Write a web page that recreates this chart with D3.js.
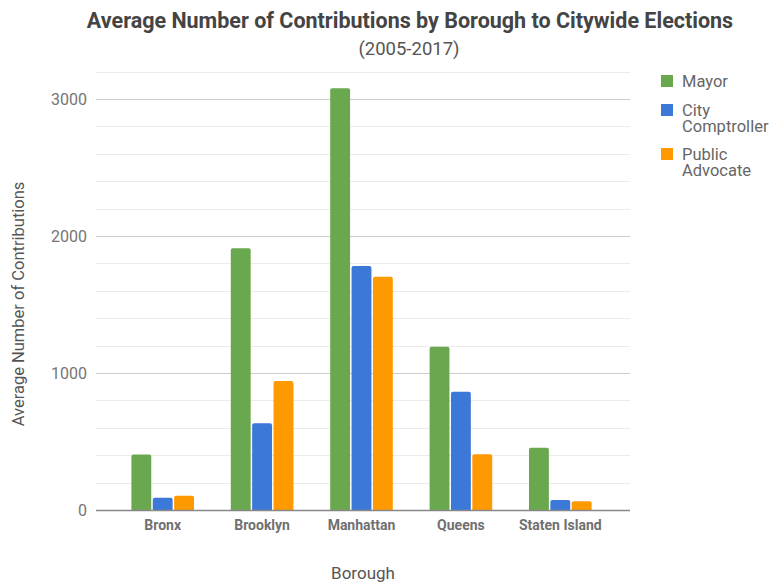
<!DOCTYPE html>
<html>
<head>
<meta charset="utf-8">
<script src="https://cdn.jsdelivr.net/npm/d3@7"></script>
<style>
  body { margin: 0; background: #fff; }
  text { font-family: Roboto, "Noto Sans", sans-serif; }
</style>
</head>
<body>
<div id="chart"></div>
<script>
// data
var boroughs = ["Bronx", "Brooklyn", "Manhattan", "Queens", "Staten Island"];
var seriesNames = ["Mayor", "City Comptroller", "Public Advocate"];
var mayor = [406, 1910, 3078, 1192, 455];
var comptroller = [90, 633, 1781, 864, 73];
var advocate = [104, 942, 1703, 407, 64];
var yTicks = [0, 1000, 2000, 3000];
var colors = ["#6aa84f", "#3c78d8", "#ff9900"];

var width = 774, height = 582;
var gridLeft = 96, gridRight = 630;

var svg = d3.select("#chart")
    .append("svg")
    .attr("width", width)
    .attr("height", height);

var y = d3.scaleLinear()
    .domain([0, 3200])
    .range([510, 71.6]);

var x0 = d3.scaleBand()
    .domain(boroughs)
    .range([113, 610])
    .paddingInner(0.37)
    .paddingOuter(0.185);

var x1 = d3.scaleBand()
    .domain(seriesNames)
    .range([0, x0.bandwidth()])
    .paddingInner(0.07);

// minor + major gridlines
var minor = d3.range(0, 3201, 200).filter(function(v) { return v % 1000 !== 0; });
svg.append("g").selectAll("line")
    .data(minor)
  .enter().append("line")
    .attr("x1", gridLeft).attr("x2", gridRight)
    .attr("y1", function(d) { return Math.round(y(d)) + 0.5; })
    .attr("y2", function(d) { return Math.round(y(d)) + 0.5; })
    .style("stroke", "#ebebeb");

svg.append("g").selectAll("line")
    .data(yTicks.filter(function(d) { return d > 0; }))
  .enter().append("line")
    .attr("x1", gridLeft).attr("x2", gridRight)
    .attr("y1", function(d) { return Math.round(y(d)) + 0.5; })
    .attr("y2", function(d) { return Math.round(y(d)) + 0.5; })
    .style("stroke", "#cccccc");

// y axis labels
var yAxis = d3.axisLeft(y).tickValues(yTicks).tickFormat(d3.format("d")).tickSize(0).tickPadding(9);
var gy = svg.append("g")
    .attr("transform", "translate(" + gridLeft + ",0)")
    .call(yAxis);
gy.select(".domain").remove();
gy.selectAll("text")
    .style("font-family", "Roboto, sans-serif")
    .style("font-size", "16px")
    .style("fill", "#757575");

// bars
var table = boroughs.map(function(b, i) {
  return { borough: b, values: [mayor[i], comptroller[i], advocate[i]] };
});

var groups = svg.append("g").selectAll("g")
    .data(table)
  .enter().append("g")
    .attr("transform", function(d) { return "translate(" + x0(d.borough) + ",0)"; });

groups.selectAll("path")
    .data(function(d) { return d.values.map(function(v, j) { return { name: seriesNames[j], value: v, j: j }; }); })
  .enter().append("path")
    .attr("d", function(d) {
      var bx = x1(d.name), bw = x1.bandwidth(), top = y(d.value), bottom = y(0), r = 2;
      return "M" + bx + "," + bottom +
        "V" + (top + r) +
        "Q" + bx + "," + top + " " + (bx + r) + "," + top +
        "H" + (bx + bw - r) +
        "Q" + (bx + bw) + "," + top + " " + (bx + bw) + "," + (top + r) +
        "V" + bottom + "Z";
    })
    .style("fill", function(d) { return colors[d.j]; });

// baseline
svg.append("line")
    .attr("x1", gridLeft).attr("x2", gridRight)
    .attr("y1", y(0) + 0.5).attr("y2", y(0) + 0.5)
    .style("stroke", "#888")
    .style("stroke-width", 1.5);

// x axis labels
var xAxis = d3.axisBottom(x0).tickSize(0).tickPadding(10);
var gx = svg.append("g")
    .attr("transform", "translate(0," + y(0) + ")")
    .call(xAxis);
gx.select(".domain").remove();
gx.selectAll("text")
    .style("font-family", "Roboto, sans-serif")
    .style("font-size", "14px")
    .style("font-weight", "bold")
    .style("fill", "#707070");

// titles
svg.append("text")
    .attr("x", 410).attr("y", 28)
    .attr("text-anchor", "middle")
    .style("font-size", "21.5px")
    .style("font-weight", "bold")
    .style("fill", "#444")
    .text("Average Number of Contributions by Borough to Citywide Elections");

svg.append("text")
    .attr("x", 409).attr("y", 55)
    .attr("text-anchor", "middle")
    .style("font-size", "18.5px")
    .style("fill", "#555")
    .text("(2005-2017)");

svg.append("text")
    .attr("x", 363).attr("y", 579)
    .attr("text-anchor", "middle")
    .style("font-size", "17px")
    .style("fill", "#555")
    .text("Borough");

svg.append("text")
    .attr("transform", "translate(24,304) rotate(-90)")
    .attr("text-anchor", "middle")
    .style("font-size", "16.5px")
    .style("fill", "#555")
    .text("Average Number of Contributions");

// legend
var legendLines = [["Mayor"], ["City", "Comptroller"], ["Public", "Advocate"]];
var legendY = [81, 110, 154];
var legend = svg.append("g").selectAll("g")
    .data(legendLines)
  .enter().append("g")
    .attr("transform", function(d, i) { return "translate(661," + legendY[i] + ")"; });

legend.append("rect")
    .attr("x", 0).attr("y", -6)
    .attr("width", 12).attr("height", 12)
    .style("fill", function(d, i) { return colors[i]; });

legend.each(function(lines) {
  var g = d3.select(this);
  lines.forEach(function(t, k) {
    g.append("text")
      .attr("x", 21).attr("y", 6 + k * 15.5)
      .style("font-size", "16.5px")
      .style("fill", "#666")
      .text(t);
  });
});
</script>
</body>
</html>
